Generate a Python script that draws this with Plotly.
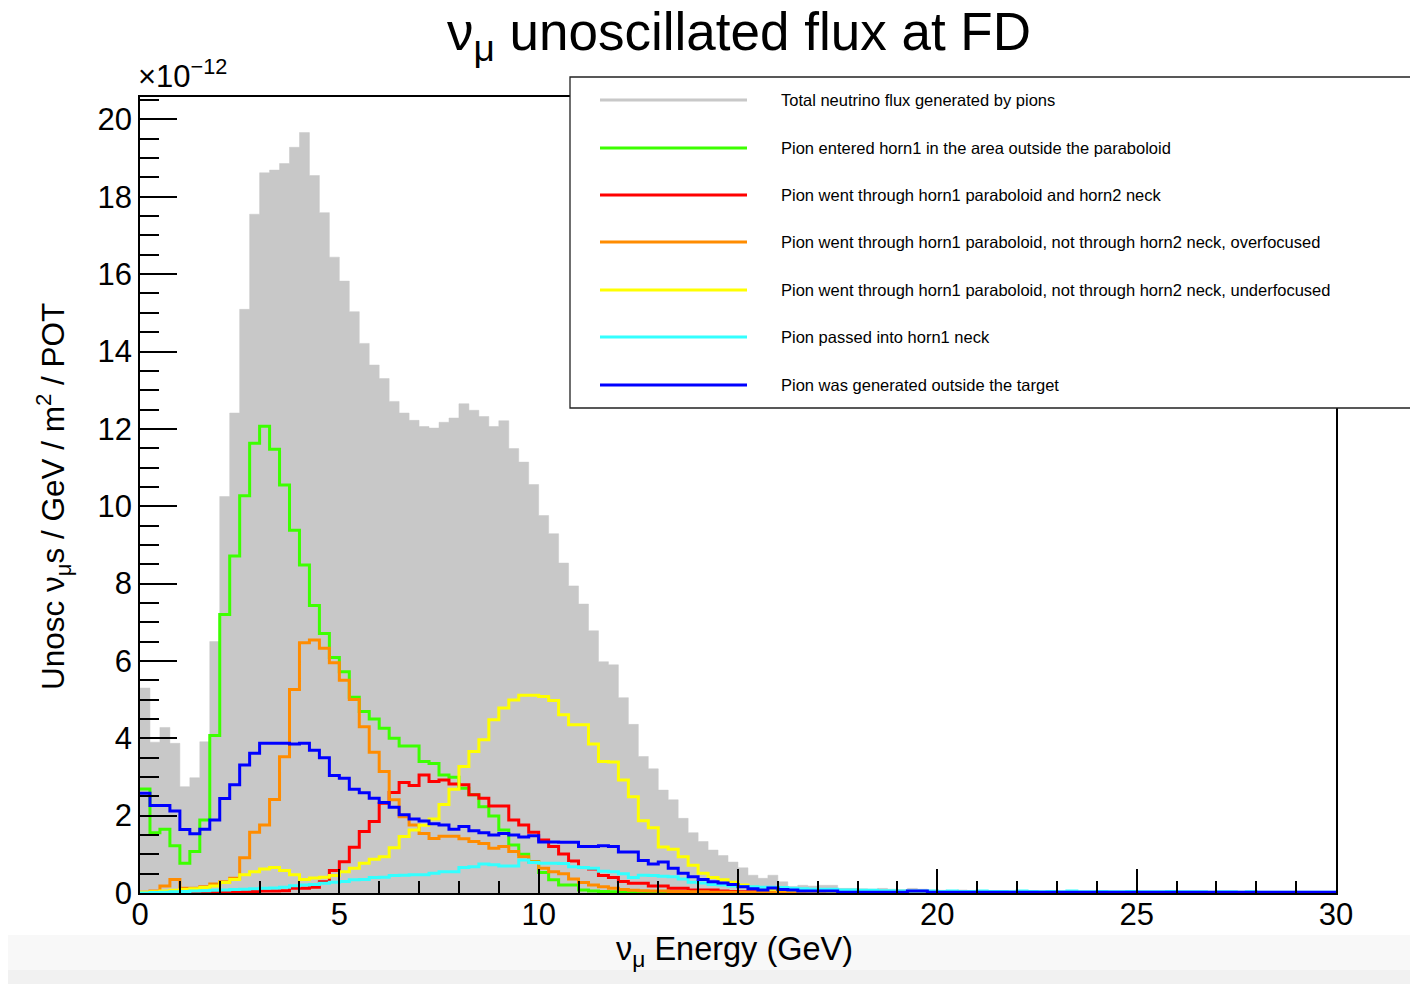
import numpy as np
import plotly.graph_objects as go

# Binning: 120 bins of 0.25 GeV from 0 to 30 GeV
E_MIN, E_MAX, N_BINS = 0.0, 30.0, 120
EDGES = np.linspace(E_MIN, E_MAX, N_BINS + 1)

# Flux per bin, units of 1e-12 nu_mu / GeV / m^2 / POT
total = [
    5.30, 3.90, 4.28, 3.87, 2.75, 2.98, 3.91, 6.50, 10.25, 12.41,
    15.09, 17.55, 18.62, 18.69, 18.86, 19.28, 19.66, 18.55, 17.59, 16.44,
    15.82, 15.03, 14.21, 13.65, 13.30, 12.71, 12.41, 12.22, 12.06, 12.02,
    12.17, 12.28, 12.65, 12.48, 12.32, 12.06, 12.21, 11.49, 11.14, 10.56,
    9.76, 9.29, 8.53, 7.94, 7.47, 6.78, 5.98, 5.90, 5.05, 4.36,
    3.53, 3.21, 2.66, 2.41, 1.93, 1.56, 1.33, 1.11, 0.97, 0.80,
    0.65, 0.46, 0.38, 0.46, 0.29, 0.17, 0.20, 0.18, 0.20, 0.20,
    0.12, 0.12, 0.11, 0.10, 0.12, 0.10, 0.09, 0.12, 0.10, 0.08,
    0.07, 0.06, 0.08, 0.06, 0.05, 0.06, 0.05, 0.04, 0.06, 0.05,
    0.04, 0.05, 0.04, 0.06, 0.04, 0.03, 0.05, 0.04, 0.03, 0.04,
    0.03, 0.04, 0.03, 0.05, 0.03, 0.03, 0.04, 0.02, 0.03, 0.03,
    0.02, 0.03, 0.02, 0.03, 0.02, 0.02, 0.03, 0.02, 0.02, 0.02,
]

outside_paraboloid = [
    2.69, 1.56, 1.65, 1.22, 0.77, 1.07, 1.89, 4.07, 7.20, 8.71,
    10.27, 11.63, 12.07, 11.47, 10.55, 9.38, 8.48, 7.43, 6.71, 6.09,
    5.72, 5.06, 4.69, 4.50, 4.26, 4.00, 3.80, 3.80, 3.40, 3.35,
    3.05, 2.99, 2.71, 2.54, 2.23, 1.99, 1.63, 1.24, 1.00, 0.81,
    0.53, 0.34, 0.21, 0.21, 0.08, 0.05, 0.04, 0.03, 0.02, 0.02,
    0.02, 0.01, 0.01, 0.01, 0.01, 0.01, 0.01, 0.01, 0.00, 0.00,
    0.00, 0.00, 0.00, 0.00, 0.00, 0.00, 0.00, 0.00, 0.00, 0.00,
    0.00, 0.00, 0.00, 0.00, 0.00, 0.00, 0.00, 0.00, 0.00, 0.00,
    0.00, 0.00, 0.00, 0.00, 0.00, 0.00, 0.00, 0.00, 0.00, 0.00,
    0.00, 0.00, 0.00, 0.00, 0.00, 0.00, 0.00, 0.00, 0.00, 0.00,
    0.00, 0.00, 0.00, 0.00, 0.00, 0.00, 0.00, 0.00, 0.00, 0.00,
    0.00, 0.00, 0.00, 0.00, 0.00, 0.00, 0.00, 0.00, 0.00, 0.00,
]

paraboloid_and_neck = [
    0.00, 0.00, 0.00, 0.01, 0.01, 0.02, 0.02, 0.02, 0.02, 0.03,
    0.03, 0.04, 0.05, 0.05, 0.06, 0.12, 0.12, 0.15, 0.29, 0.58,
    0.81, 1.18, 1.59, 1.85, 2.32, 2.60, 2.86, 2.78, 3.05, 2.88,
    2.92, 2.82, 2.80, 2.54, 2.45, 2.25, 2.25, 1.89, 1.76, 1.57,
    1.37, 1.20, 1.01, 0.83, 0.66, 0.62, 0.45, 0.40, 0.30, 0.25,
    0.25, 0.18, 0.18, 0.12, 0.12, 0.08, 0.08, 0.08, 0.05, 0.04,
    0.03, 0.03, 0.02, 0.02, 0.01, 0.01, 0.01, 0.01, 0.00, 0.00,
    0.00, 0.00, 0.00, 0.00, 0.00, 0.00, 0.00, 0.00, 0.00, 0.00,
    0.00, 0.00, 0.00, 0.00, 0.00, 0.00, 0.00, 0.00, 0.00, 0.00,
    0.00, 0.00, 0.00, 0.00, 0.00, 0.00, 0.00, 0.00, 0.00, 0.00,
    0.00, 0.00, 0.00, 0.00, 0.00, 0.00, 0.00, 0.00, 0.00, 0.00,
    0.00, 0.00, 0.00, 0.00, 0.00, 0.00, 0.00, 0.00, 0.00, 0.00,
]

overfocused = [
    0.02, 0.05, 0.18, 0.35, 0.12, 0.12, 0.16, 0.23, 0.29, 0.38,
    0.91, 1.57, 1.76, 2.42, 3.52, 5.26, 6.47, 6.54, 6.33, 5.95,
    5.50, 5.00, 4.30, 3.64, 3.14, 2.41, 1.97, 1.76, 1.54, 1.41,
    1.47, 1.47, 1.40, 1.33, 1.28, 1.16, 1.20, 1.07, 0.94, 0.81,
    0.64, 0.55, 0.50, 0.36, 0.27, 0.21, 0.16, 0.12, 0.09, 0.07,
    0.06, 0.05, 0.05, 0.04, 0.04, 0.03, 0.03, 0.02, 0.02, 0.02,
    0.01, 0.01, 0.01, 0.01, 0.00, 0.00, 0.00, 0.00, 0.00, 0.00,
    0.00, 0.00, 0.00, 0.00, 0.00, 0.00, 0.00, 0.00, 0.00, 0.00,
    0.00, 0.00, 0.00, 0.00, 0.00, 0.00, 0.00, 0.00, 0.00, 0.00,
    0.00, 0.00, 0.00, 0.00, 0.00, 0.00, 0.00, 0.00, 0.00, 0.00,
    0.00, 0.00, 0.00, 0.00, 0.00, 0.00, 0.00, 0.00, 0.00, 0.00,
    0.00, 0.00, 0.00, 0.00, 0.00, 0.00, 0.00, 0.00, 0.00, 0.00,
]

underfocused = [
    0.02, 0.03, 0.05, 0.07, 0.09, 0.11, 0.14, 0.18, 0.27, 0.35,
    0.47, 0.55, 0.62, 0.66, 0.58, 0.47, 0.35, 0.39, 0.41, 0.45,
    0.55, 0.64, 0.77, 0.87, 0.94, 1.17, 1.46, 1.63, 1.75, 1.91,
    2.29, 2.68, 3.27, 3.66, 3.96, 4.48, 4.78, 4.99, 5.11, 5.11,
    5.08, 4.98, 4.61, 4.35, 4.35, 3.85, 3.40, 3.39, 2.92, 2.49,
    1.87, 1.69, 1.19, 1.13, 0.94, 0.72, 0.51, 0.40, 0.34, 0.28,
    0.21, 0.15, 0.11, 0.10, 0.08, 0.07, 0.06, 0.05, 0.05, 0.04,
    0.03, 0.03, 0.02, 0.02, 0.02, 0.02, 0.02, 0.02, 0.01, 0.01,
    0.01, 0.01, 0.01, 0.01, 0.00, 0.00, 0.00, 0.00, 0.00, 0.00,
    0.00, 0.00, 0.00, 0.00, 0.00, 0.00, 0.00, 0.00, 0.00, 0.00,
    0.00, 0.00, 0.00, 0.00, 0.00, 0.00, 0.00, 0.00, 0.00, 0.00,
    0.00, 0.00, 0.00, 0.00, 0.00, 0.00, 0.00, 0.00, 0.00, 0.00,
]

horn1_neck = [
    0.00, 0.01, 0.02, 0.03, 0.04, 0.05, 0.06, 0.07, 0.08, 0.09,
    0.10, 0.11, 0.12, 0.13, 0.15, 0.19, 0.21, 0.22, 0.25, 0.28,
    0.30, 0.34, 0.35, 0.40, 0.41, 0.45, 0.46, 0.47, 0.47, 0.51,
    0.55, 0.55, 0.66, 0.68, 0.75, 0.73, 0.70, 0.70, 0.85, 0.79,
    0.77, 0.77, 0.76, 0.68, 0.66, 0.64, 0.56, 0.55, 0.50, 0.40,
    0.46, 0.45, 0.43, 0.42, 0.36, 0.28, 0.26, 0.22, 0.21, 0.18,
    0.17, 0.16, 0.15, 0.15, 0.14, 0.12, 0.11, 0.10, 0.10, 0.10,
    0.08, 0.08, 0.07, 0.07, 0.06, 0.06, 0.05, 0.05, 0.05, 0.05,
    0.04, 0.05, 0.04, 0.04, 0.05, 0.04, 0.04, 0.03, 0.05, 0.04,
    0.03, 0.04, 0.03, 0.05, 0.03, 0.03, 0.04, 0.03, 0.03, 0.04,
    0.03, 0.03, 0.03, 0.04, 0.03, 0.03, 0.03, 0.02, 0.03, 0.03,
    0.02, 0.03, 0.02, 0.02, 0.02, 0.02, 0.02, 0.02, 0.02, 0.02,
]

outside_target = [
    2.58, 2.26, 2.26, 2.12, 1.64, 1.53, 1.65, 1.89, 2.44, 2.80,
    3.31, 3.61, 3.87, 3.87, 3.87, 3.85, 3.87, 3.69, 3.50, 3.04,
    2.97, 2.68, 2.59, 2.45, 2.34, 2.22, 2.02, 1.91, 1.86, 1.79,
    1.76, 1.65, 1.72, 1.61, 1.56, 1.50, 1.54, 1.50, 1.45, 1.48,
    1.32, 1.32, 1.31, 1.31, 1.20, 1.20, 1.22, 1.20, 1.06, 1.06,
    0.84, 0.75, 0.80, 0.64, 0.51, 0.42, 0.35, 0.29, 0.26, 0.22,
    0.16, 0.11, 0.08, 0.13, 0.09, 0.08, 0.05, 0.05, 0.05, 0.05,
    0.02, 0.02, 0.02, 0.02, 0.02, 0.02, 0.02, 0.05, 0.05, 0.02,
    0.02, 0.02, 0.02, 0.02, 0.02, 0.02, 0.02, 0.02, 0.02, 0.02,
    0.02, 0.02, 0.02, 0.02, 0.02, 0.02, 0.02, 0.02, 0.02, 0.02,
    0.02, 0.02, 0.02, 0.02, 0.02, 0.02, 0.02, 0.02, 0.02, 0.02,
    0.02, 0.02, 0.02, 0.02, 0.02, 0.02, 0.02, 0.02, 0.02, 0.02,
]

labels = [
    "Total neutrino flux generated by pions",
    "Pion entered horn1 in the area outside the paraboloid",
    "Pion went through horn1 paraboloid and horn2 neck",
    "Pion went through horn1 paraboloid, not through horn2 neck, overfocused",
    "Pion went through horn1 paraboloid, not through horn2 neck, underfocused",
    "Pion passed into horn1 neck",
    "Pion was generated outside the target",
]
colors = ["#c8c8c8", "#3cff00", "#ff0000", "#ff8c00", "#ffff00", "#33ffff", "#0000ff"]
components = [outside_paraboloid, paraboloid_and_neck, overfocused,
              underfocused, horn1_neck, outside_target]

FONT = "Liberation Sans, Arial, Helvetica, sans-serif"
W, H = 1410, 984
L, R, T, B = 140, 74, 97, 91
PW, PH = W - L - R, H - T - B


def fx(p):
    """Pixel column -> paper x."""
    return (p - L) / PW


def fy(p):
    """Pixel row -> paper y."""
    return (H - B - p) / PH


def steps(vals):
    return list(vals) + [vals[-1]]


fig = go.Figure()

# Filled total histogram
fig.add_trace(go.Scatter(
    x=EDGES, y=steps(total), mode="lines", line_shape="hv",
    line=dict(color=colors[0], width=0.5), fill="tozeroy",
    fillcolor=colors[0], showlegend=False, hoverinfo="skip",
))

# Outline histograms for each pion category
for vals, col in zip(components, colors[1:]):
    fig.add_trace(go.Scatter(
        x=EDGES, y=steps(vals), mode="lines", line_shape="hv",
        line=dict(color=col, width=3), showlegend=False,
    ))

axis_common = dict(
    showgrid=False, zeroline=False, showline=True, linecolor="black",
    linewidth=1.5, mirror=True, ticks="inside", tickcolor="black",
    tickwidth=1.5, tickfont=dict(family=FONT, size=31, color="black"),
)

fig.update_xaxes(
    range=[E_MIN, E_MAX], tick0=0, dtick=5, ticklen=24, ticklabelstandoff=-7,
    minor=dict(dtick=1, ticklen=12, ticks="inside", tickcolor="black", tickwidth=1.5),
    **axis_common,
)
fig.update_yaxes(
    range=[0, 20.58], tick0=0, dtick=2, ticklen=37,
    minor=dict(dtick=0.5, ticklen=19, ticks="inside", tickcolor="black", tickwidth=1.5),
    **axis_common,
)

shapes = [
    # faint band along the bottom of the canvas
    dict(type="rect", xref="paper", yref="paper", x0=fx(8), x1=fx(W), y0=fy(935), y1=fy(970),
         fillcolor="#f8f8f8", line=dict(width=0), layer="below"),
    dict(type="rect", xref="paper", yref="paper", x0=fx(8), x1=fx(W), y0=fy(970), y1=fy(H),
         fillcolor="#f1f1f1", line=dict(width=0), layer="below"),
    # legend box
    dict(type="rect", xref="paper", yref="paper", x0=fx(570), x1=fx(W + 5), y0=fy(408), y1=fy(77),
         fillcolor="white", line=dict(color="#222222", width=1.3), layer="above"),
]

annotations = []
row_y = [100, 148, 195, 242, 290, 337, 385]
for lab, col, ry in zip(labels, colors, row_y):
    shapes.append(dict(type="line", xref="paper", yref="paper",
                       x0=fx(600), x1=fx(747), y0=fy(ry), y1=fy(ry),
                       line=dict(color=col, width=3), layer="above"))
    annotations.append(dict(
        text=lab, xref="paper", yref="paper", x=fx(779), y=fy(ry),
        xanchor="left", yanchor="middle", showarrow=False,
        font=dict(family=FONT, size=16.5, color="black"),
    ))

# exponent of the y axis
annotations.append(dict(
    text="×10<sup>−12</sup>", xref="paper", yref="paper", x=fx(136), y=fy(96),
    xanchor="left", yanchor="bottom", showarrow=False,
    font=dict(family=FONT, size=31, color="black"),
))
# axis titles
annotations.append(dict(
    text="ν<sub>μ</sub> Energy (GeV)", xref="paper", yref="paper", x=fx(734), y=fy(951),
    xanchor="center", yanchor="middle", showarrow=False,
    font=dict(family=FONT, size=32.5, color="black"),
))
annotations.append(dict(
    text="Unosc ν<sub>μ</sub>s / GeV / m<sup>2</sup> / POT", xref="paper", yref="paper",
    x=fx(54), y=fy(497), xanchor="center", yanchor="middle", textangle=-90,
    showarrow=False, font=dict(family=FONT, size=31.5, color="black"),
))

fig.update_layout(
    width=W, height=H,
    margin=dict(l=L, r=R, t=T, b=B, autoexpand=False),
    paper_bgcolor="white", plot_bgcolor="white",
    showlegend=False,
    title=dict(
        text="ν<sub>μ</sub> unoscillated flux at FD",
        x=fx(739), xref="paper", xanchor="center",
        y=1 - 31 / H, yref="container", yanchor="middle",
        font=dict(family=FONT, size=53, color="black"),
    ),
    shapes=shapes,
    annotations=annotations,
)

fig.write_html("out.html")
